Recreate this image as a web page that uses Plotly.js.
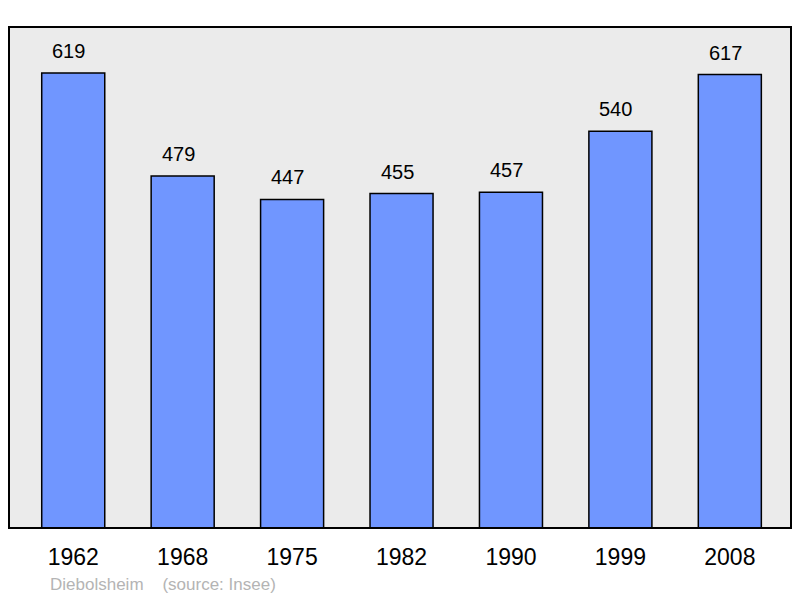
<!DOCTYPE html>
<html>
<head>
<meta charset="utf-8">
<script src="https://cdn.plot.ly/plotly-3.0.1.min.js"></script>
<style>
html,body{margin:0;padding:0;background:#fff;}
#chart{width:800px;height:598px;}
</style>
</head>
<body>
<div id="chart"></div>
<script>
const years = ["1962", "1968", "1975", "1982", "1990", "1999", "2008"];
const population = [619, 479, 447, 455, 457, 540, 617];
const townName = "Diebolsheim";
const sourceText = "(source: Insee)";

const FONT = "Liberation Sans, Arial, sans-serif";

const trace = {
  type: "bar",
  x: years,
  y: population,
  marker: {color: "#7096ff", line: {color: "#000000", width: 1.5}},
  hoverinfo: "none"
};

const annotations = years.map((yr, i) => ({
  x: i, y: population[i], xref: "x", yref: "y",
  text: String(population[i]), showarrow: false,
  yanchor: "bottom", yshift: 9, xshift: -4.5,
  font: {family: FONT, size: 20, color: "#000"}
}));
annotations.push({
  xref: "paper", yref: "paper", x: 0.05, y: -0.112,
  xanchor: "left", yanchor: "middle", showarrow: false,
  text: townName + "&nbsp;&nbsp;&nbsp;&nbsp;" + sourceText,
  font: {family: FONT, size: 17, color: "#b4b4b4"}
});

const layout = {
  width: 800, height: 598,
  margin: {l: 9, r: 9, t: 27, b: 70},
  paper_bgcolor: "#ffffff",
  plot_bgcolor: "#ebebeb",
  bargap: 0.424,
  showlegend: false,
  xaxis: {
    type: "category", range: [-0.587, 6.559],
    showgrid: false, zeroline: false, showline: false,
    ticks: "", ticklabelstandoff: 13,
    tickfont: {family: FONT, size: 23, color: "#000"}, fixedrange: true
  },
  yaxis: {
    range: [0, 681.7], showgrid: false, zeroline: false,
    showline: false, showticklabels: false, ticks: "", fixedrange: true
  },
  shapes: [{
    type: "rect", xref: "paper", yref: "paper", x0: 0, x1: 1, y0: 0, y1: 1,
    line: {color: "#000", width: 2}, layer: "above"
  }],
  annotations: annotations
};

Plotly.newPlot("chart", [trace], layout, {displayModeBar: false, staticPlot: true});
</script>
</body>
</html>
